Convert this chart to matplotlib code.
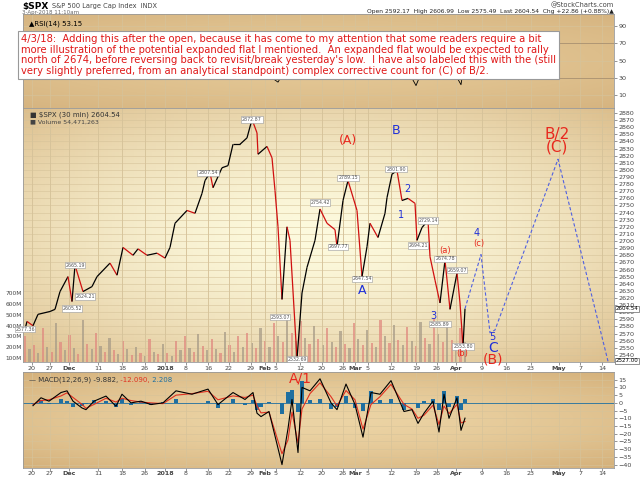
import numpy as np
import matplotlib
matplotlib.use("Agg")
import matplotlib.pyplot as plt
from matplotlib.collections import LineCollection

# ── Data (x = chart position) ────────────────────────────────────────────────
price_x = [25, 27, 33, 38, 50, 55, 60, 68, 72, 75, 83, 92, 97, 110, 117, 123, 133, 138,
           147, 157, 165, 170, 175, 187, 195, 202, 205, 210, 213, 222, 228, 233, 240,
           247, 252, 257, 258, 267, 272, 275, 278, 282, 287, 290, 297, 302, 307, 315,
           320, 327, 335, 337, 343, 348, 357, 362, 367, 370, 378, 385, 387, 392, 397,
           402, 408, 415, 417, 422, 428, 430, 435, 440, 445, 450, 457, 460, 463, 465]
price_y = [2576, 2587, 2581, 2597, 2601, 2604, 2629, 2650, 2615, 2666, 2629, 2636, 2650,
           2669, 2652, 2691, 2680, 2689, 2680, 2683, 2676, 2691, 2725, 2743, 2739, 2767,
           2785, 2796, 2775, 2803, 2806, 2836, 2836, 2845, 2871, 2852, 2822, 2833, 2817,
           2771, 2720, 2618, 2720, 2701, 2534, 2627, 2663, 2701, 2745, 2725, 2716,
           2692, 2757, 2785, 2743, 2650, 2692, 2725, 2705, 2739, 2761, 2794, 2799, 2757,
           2760, 2753, 2701, 2719, 2729, 2678, 2645, 2613, 2673, 2604, 2655, 2613, 2552,
           2605]

proj_x = [465, 481, 490, 495, 558, 608]
proj_y = [2605, 2681, 2571, 2575, 2815, 2531]

vol_m = [300, 180, 220, 150, 380, 200, 160, 420, 250, 170, 310, 190, 140, 450, 230, 180,
         330, 210, 160, 290, 170, 140, 260, 180, 130, 200, 150, 120, 280, 160, 140, 230,
         150, 120, 260, 170, 300, 190, 160, 320, 210, 170, 280, 180, 150, 340, 220, 160,
         300, 200, 330, 240, 190, 380, 260, 200, 420, 300, 250, 470, 330, 260, 440, 290,
         230, 400, 280, 220, 380, 250, 200, 350, 230, 190, 420, 280, 220, 360, 240, 200,
         450, 300, 240, 410, 270, 220, 390, 260, 210, 430, 290, 230, 470, 320, 250, 400,
         270, 220, 380, 250]

macd_x = [33, 41, 49, 61, 67, 73, 82, 86, 94, 106, 116, 122, 131, 141, 151, 163, 176,
          192, 208, 218, 233, 245, 253, 257, 261, 269, 282, 288, 292, 298, 302, 310, 320,
          331, 337, 346, 355, 363, 371, 380, 391, 404, 412, 418, 424, 433, 439, 444, 449,
          457, 461, 465]
macd_v = [-1.8, 3.3, 1.1, 6.7, 7.8, 1.1, -3.3, -4.4, 1.1, 4.4, -2.2, 5.6, 0, 1.1, -1.1,
          0, 7.8, 5.6, 8.9, -1.1, 6.7, 2.2, 6.7, -6.7, -8.9, -5.6, -40, -16.7, 2.2, -32.2,
          10, 7.8, 15.6, 0, -4.4, 12.2, -1.1, -22.2, 6.7, 5.6, 14.4, -5.6, -4.4, -13.3,
          -6.7, 1.1, -18.9, 5.6, -10, 3.3, -17.8, -9.9]
signal_v = [-1.0, 1.5, 2.0, 4.5, 6.5, 3.5, -1.0, -3.5, -1.0, 3.0, 0.5, 3.0, 1.5, 0.5, 0,
            -0.5, 5.0, 6.0, 7.5, 2.0, 4.5, 3.5, 5.0, -2.0, -6.5, -6.0, -33.0, -24.0, -6.0,
            -26.0, -4.0, 6.0, 13.0, 4.0, -2.0, 8.0, 2.0, -17.0, -1.0, 4.0, 12.0, -1.0,
            -4.0, -10.0, -8.0, -1.5, -14.0, -2.0, -7.0, -1.0, -13.0, -12.09]

rsi_x = [23, 60, 100, 165, 200, 250, 257, 262, 278, 283, 300, 359, 364, 400, 416, 421,
         433, 438, 450, 461, 465]
rsi_v = [45, 55, 60, 40, 55, 42, 30, 38, 25, 35, 60, 28, 40, 55, 21, 35, 28, 40, 45,
         22, 53]

tick_x = [32, 50, 69, 98, 122, 145, 165, 186, 208, 229, 251, 265, 276, 300, 322, 343,
          355, 368, 391, 416, 437, 456, 482, 506, 531, 559, 580, 602]
tick_lbl = ["20", "27", "Dec", "11", "18", "26", "2018", "8", "16", "22", "29", "Feb",
            "5", "12", "20", "26", "Mar", "5", "12", "19", "26", "Apr", "9", "16", "23",
            "May", "7", "14"]
months = {"Dec", "2018", "Feb", "Mar", "Apr", "May"}

price_tags = [(75, 2666, "2665.19"), (72, 2605, "2605.52"), (85, 2622, "2624.21"),
              (208, 2796, "2807.54"), (252, 2871, "2872.87"), (280, 2593, "2593.07"),
              (297, 2534, "2532.69"), (320, 2754, "2754.42"), (338, 2692, "2697.77"),
              (348, 2789, "2789.15"), (362, 2647, "2647.54"), (396, 2801, "2801.90"),
              (428, 2729, "2729.14"), (418, 2694, "2694.21"), (445, 2675, "2674.78"),
              (457, 2659, "2659.07"), (440, 2583, "2585.89"), (463, 2552, "2553.80"),
              (25, 2576, "2577.36")]

wave_labels = [(348, 2842, "(A)", "#e8281e", 9), (362, 2630, "A", "#1f2fd8", 9),
               (396, 2855, "B", "#1f2fd8", 9), (407, 2773, "2", "#1f2fd8", 7),
               (401, 2737, "1", "#1f2fd8", 7), (433, 2594, "3", "#1f2fd8", 7),
               (445, 2687, "(a)", "#e8281e", 6), (462, 2542, "(b)", "#e8281e", 6),
               (477, 2712, "4", "#1f2fd8", 7), (479, 2697, "(c)", "#e8281e", 6),
               (492, 2565, "5", "#1f2fd8", 7), (493, 2550, "C", "#1f2fd8", 10),
               (493, 2533, "(B)", "#e8281e", 10), (557, 2850, "B/2", "#e8281e", 11),
               (557, 2832, "(C)", "#e8281e", 11)]

note = ("4/3/18:  Adding this after the open, because it has come to my attention that some readers require a bit\n"
        "more illustration of the potential expanded flat I mentioned.  An expanded flat would be expected to rally\n"
        "north of 2674, before reversing back to revisit/break yesterday's low.  I have also labeled this with the (still\n"
        "very slightly preferred, from an analytical standpoint) complex corrective count for (C) of B/2.")

# ── Layout ────────────────────────────────────────────────────────────────────
W, H = 640, 479
XL, XR = 23, 614
GRID = "#d6c39a"


def box(y0, y1):
    return [XL / W, 1 - y1 / H, (XR - XL) / W, (y1 - y0) / H]


def shade(ax, c_mid, c_edge, power=1.6):
    yy, xx = np.mgrid[-1:1:80j, -1:1:160j]
    d = np.clip(np.sqrt((xx * 0.9) ** 2 + yy ** 2) / 1.35, 0, 1) ** power
    c_mid, c_edge = np.array(c_mid) / 255, np.array(c_edge) / 255
    img = c_mid + (c_edge - c_mid) * d[..., None]
    ax.imshow(img, extent=(0, 1, 0, 1), transform=ax.transAxes, aspect="auto", zorder=-5)


def frame(ax):
    ax.set_xlim(XL, XR)
    ax.yaxis.tick_right()
    ax.tick_params(axis="both", labelsize=4.6, length=2, width=0.4, colors="#444444", pad=1.2)
    for s in ax.spines.values():
        s.set_color("#999999")
        s.set_linewidth(0.6)
    for x in tick_x:
        ax.axvline(x, color=GRID, lw=0.5, zorder=-1)


def date_ticks(ax):
    ax.set_xticks(tick_x)
    ax.set_xticklabels(tick_lbl)
    for t in ax.get_xticklabels():
        if t.get_text() in months:
            t.set_fontweight("bold")


fig = plt.figure(figsize=(W / 100, H / 100), dpi=100)

# RSI panel
ax_r = fig.add_axes(box(14, 108))
shade(ax_r, (228, 200, 150), (214, 180, 128))
frame(ax_r)
ax_r.set_ylim(-5, 104)
ax_r.set_yticks([10, 30, 50, 70, 90])
for v in [10, 50, 90]:
    ax_r.axhline(v, color=GRID, lw=0.5, zorder=-1)
for v in [30, 70]:
    ax_r.axhline(v, color="#a89070", lw=0.6, zorder=-1)
ax_r.plot(rsi_x, rsi_v, color="black", lw=0.6)
ax_r.set_xticks([])
ax_r.text(0.01, 0.93, "\u25b2RSI(14) 53.15", transform=ax_r.transAxes, fontsize=5, va="top")

# Price panel: background, volume, then price on top
ax_bg = fig.add_axes(box(108, 362))
shade(ax_bg, (253, 250, 222), (220, 190, 140))
ax_bg.set_axis_off()

ax_v = fig.add_axes(box(108, 362))
ax_v.patch.set_visible(False)
ax_v.set_xlim(XL, XR)
ax_v.set_ylim(63, 2417)
vx = np.linspace(25, 465, len(vol_m))
ax_v.bar(vx, vol_m, width=2.2, color=["#e08a80", "#a89c88"] * (len(vol_m) // 2), alpha=0.75)
ax_v.set_xticks([])
ax_v.set_yticks([100, 200, 300, 400, 500, 600, 700])
ax_v.set_yticklabels([f"{v}M" for v in [100, 200, 300, 400, 500, 600, 700]])
ax_v.tick_params(labelsize=4.2, length=0, pad=1, colors="#444444")
for s in ax_v.spines.values():
    s.set_visible(False)

ax_p = fig.add_axes(box(108, 362))
ax_p.patch.set_visible(False)
frame(ax_p)
ax_p.set_ylim(2530, 2887)
ax_p.set_yticks(range(2540, 2881, 10))
for v in range(2540, 2881, 10):
    ax_bg.axhline((v - 2530) / (2887 - 2530), color=GRID, lw=0.4)
for x in tick_x:
    ax_bg.axvline((x - XL) / (XR - XL), color=GRID, lw=0.5)
ax_bg.set_xlim(0, 1)
ax_bg.set_ylim(0, 1)
date_ticks(ax_p)

pts = np.column_stack([price_x, price_y])
segs = np.stack([pts[:-1], pts[1:]], axis=1)
cols = ["black" if b >= a else "#d01010" for a, b in zip(price_y[:-1], price_y[1:])]
ax_p.add_collection(LineCollection(segs, colors=cols, linewidths=0.9, zorder=3))
ax_p.plot(proj_x, proj_y, color="#5060e0", lw=0.8, ls=(0, (3, 2)), zorder=3)

for x, y, s in price_tags:
    ax_p.text(x, y, s, fontsize=3.4, ha="center", va="center", color="#555555", zorder=4,
              bbox=dict(boxstyle="square,pad=0.15", fc="white", ec="#999999", lw=0.4))
for x, y, s, c, fs in wave_labels:
    ax_p.text(x, y, s, fontsize=fs, ha="center", va="center", color=c, zorder=5)

for v, s in [(2604.54, "2604.54"), (2531.5, "2527.00")]:
    ax_p.annotate(s, xy=(1.0, v), xycoords=("axes fraction", "data"), xytext=(1, 0),
                  textcoords="offset points", fontsize=4.0, va="center", zorder=6,
                  bbox=dict(boxstyle="square,pad=0.1", fc="white", ec="#666666", lw=0.5))

ax_p.text(0.012, 0.985, "\u25a0 $SPX (30 min) 2604.54", transform=ax_p.transAxes,
          fontsize=5, va="top", color="#333333", zorder=6)
ax_p.text(0.012, 0.955, "\u25a0 Volume 54,471,263", transform=ax_p.transAxes,
          fontsize=4.5, va="top", color="#444444", zorder=6)

# MACD panel
ax_m = fig.add_axes(box(372, 468))
shade(ax_m, (236, 212, 165), (212, 176, 122))
frame(ax_m)
ax_m.set_ylim(-42.2, 20)
ax_m.set_yticks(range(-40, 16, 5))
for v in range(-40, 16, 5):
    ax_m.axhline(v, color=GRID, lw=0.4, zorder=-1)
hist = np.array(macd_v) - np.array(signal_v)
ax_m.bar(macd_x, hist, width=4, color="#1f6fa0", zorder=1)
ax_m.axhline(0, color="#1f6fa0", lw=0.6, zorder=1)
ax_m.plot(macd_x, signal_v, color="#e03020", lw=0.8, zorder=2)
ax_m.plot(macd_x, macd_v, color="black", lw=0.8, zorder=3)
date_ticks(ax_m)
ax_m.tick_params(axis="x", pad=0.5)
t1 = ax_m.text(0.01, 0.95, "\u2014 MACD(12,26,9) -9.882,", transform=ax_m.transAxes,
               fontsize=5, va="top", color="#333333")
t2 = ax_m.annotate(" -12.090,", xycoords=t1, xy=(1, 0), va="bottom", fontsize=5,
                   color="#e03020")
ax_m.annotate(" 2.208", xycoords=t2, xy=(1, 0), va="bottom", fontsize=5, color="#1f6fa0")
ax_m.text(300, 15.5, "A/1", fontsize=10, color="#e8281e", ha="center", va="center", zorder=5)

# Note box over the RSI panel
fig.text(21 / W, 1 - 55 / H, note, fontsize=7.2, color="#e01818", va="center", ha="left",
         linespacing=1.05,
         bbox=dict(boxstyle="square,pad=0.3", fc="white", ec="#999999", lw=0.8))

# Header
fig.text(22 / W, 1 - 6 / H, "$SPX", fontsize=6.5, fontweight="bold", va="center")
fig.text(52 / W, 1 - 6 / H, "S&P 500 Large Cap Index  INDX", fontsize=4.8, va="center",
         color="#444444")
fig.text(22 / W, 1 - 12.5 / H, "3-Apr-2018 11:10am", fontsize=4, va="center", color="#666666")
fig.text(XR / W, 1 - 5 / H, "@StockCharts.com", fontsize=4.8, ha="right", va="center",
         color="#444444")
fig.text(XR / W, 1 - 12 / H,
         "Open 2592.17  High 2606.99  Low 2575.49  Last 2604.54  Chg +22.86 (+0.88%)\u25b2",
         fontsize=4.3, ha="right", va="center", color="#222222")

fig.savefig("out.png", dpi=100)
